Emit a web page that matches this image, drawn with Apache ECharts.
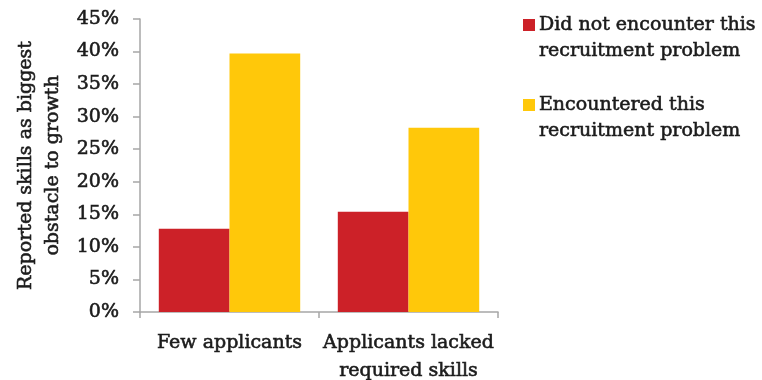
<!DOCTYPE html>
<html>
<head>
<meta charset="utf-8">
<script src="https://cdn.jsdelivr.net/npm/echarts@6/dist/echarts.min.js"></script>
<style>
  html, body { margin: 0; padding: 0; background: #fff; }
  #chart { width: 762px; height: 380px; }
</style>
</head>
<body>
<div id="chart"></div>
<script>
// Share of firms reporting skills as the biggest obstacle to growth
const categories = ['Few applicants', 'Applicants lacked\nrequired skills'];
const seriesNames = ['Did not encounter this recruitment problem', 'Encountered this recruitment problem'];
const legendLabels = ['Did not encounter this\nrecruitment problem', 'Encountered this\nrecruitment problem'];
const notEncountered = [12.8, 15.4];
const encountered = [39.7, 28.3];
const yTicks = [0, 5, 10, 15, 20, 25, 30, 35, 40, 45];

const font = 'DejaVu Serif';
const textColor = '#1c1c1c';
const axisColor = '#a6a6a6';
// a hairline outline in the text colour gives the labels a semibold weight
const heavy = { textBorderColor: textColor, textBorderWidth: 0.6 };

const chart = echarts.init(document.getElementById('chart'), null, { renderer: 'canvas' });

chart.setOption({
  animation: false,
  backgroundColor: '#ffffff',
  grid: { left: 140, right: 264, top: 19, bottom: 68, containLabel: false, outerBoundsMode: 'none' },
  legend: {
    orient: 'vertical',
    left: 518,
    top: -19,
    itemWidth: 12,
    itemHeight: 12,
    itemGap: 2,
    icon: 'rect',
    data: seriesNames,
    // blank first line keeps the swatch level with the first text line
    formatter: name => '\n' + legendLabels[seriesNames.indexOf(name)],
    textStyle: Object.assign({ fontFamily: font, fontSize: 19, color: textColor, lineHeight: 26, padding: [0, 0, 0, -1] }, heavy)
  },
  xAxis: {
    type: 'category',
    data: categories,
    axisLine: { lineStyle: { color: axisColor, width: 1.5 } },
    axisTick: { show: true, alignWithLabel: false, length: 6, lineStyle: { color: axisColor, width: 1.5 } },
    axisLabel: Object.assign({ fontFamily: font, fontSize: 19, color: textColor, margin: 17, lineHeight: 28, interval: 0 }, heavy)
  },
  yAxis: {
    type: 'value',
    min: 0,
    max: 45,
    interval: 5,
    name: 'Reported skills as biggest\nobstacle to growth',
    nameLocation: 'middle',
    nameRotate: 90,
    nameGap: 73,
    nameTextStyle: Object.assign({ fontFamily: font, fontSize: 19, color: textColor, lineHeight: 27 }, heavy),
    splitLine: { show: false },
    axisLine: { show: true, lineStyle: { color: axisColor, width: 1.5 } },
    axisTick: { show: true, length: 7, lineStyle: { color: axisColor, width: 1.5 } },
    axisLabel: Object.assign({
      fontFamily: font, fontSize: 19, color: textColor, margin: 21,
      formatter: v => (yTicks.includes(v) ? v + '%' : '')
    }, heavy)
  },
  series: [
    {
      name: seriesNames[0],
      type: 'bar',
      data: notEncountered,
      barGap: '0%',
      barCategoryGap: '21%',
      itemStyle: { color: '#cc2128' }
    },
    {
      name: seriesNames[1],
      type: 'bar',
      data: encountered,
      barGap: '0%',
      barCategoryGap: '21%',
      itemStyle: { color: '#ffc80a' }
    }
  ]
});
</script>
</body>
</html>
